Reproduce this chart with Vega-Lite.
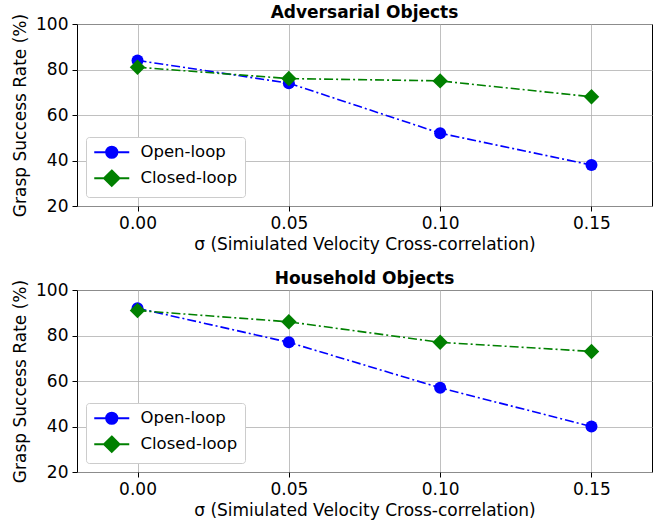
{
  "$schema": "https://vega.github.io/schema/vega-lite/v6.json",
  "padding": {"left": 11, "top": 3, "right": 5, "bottom": 5},
  "background": "white",
  "spacing": 16,
  "config": {
    "font": "DejaVu Sans",
    "view": {"stroke": "black", "strokeWidth": 1},
    "axis": {
      "labelFont": "DejaVu Sans", "titleFont": "DejaVu Sans",
      "labelFontSize": 17, "titleFontSize": 17, "titleFontWeight": "normal",
      "labelColor": "black", "titleColor": "black", "tickColor": "black",
      "domain": false, "gridColor": "#b0b0b0", "gridWidth": 0.8, "gridOpacity": 1,
      "tickSize": 5, "labelPadding": 4
    },
    "axisX": {"titlePadding": 5},
    "axisY": {"titlePadding": 6},
    "title": {"font": "DejaVu Sans", "fontSize": 17, "fontWeight": "bold", "color": "black", "anchor": "middle"}
  },
  "datasets": {
    "adv": [
      {"sigma": 0.00, "rate": 84, "method": "Open-loop"},
      {"sigma": 0.05, "rate": 74, "method": "Open-loop"},
      {"sigma": 0.10, "rate": 52, "method": "Open-loop"},
      {"sigma": 0.15, "rate": 38, "method": "Open-loop"},
      {"sigma": 0.00, "rate": 81, "method": "Closed-loop"},
      {"sigma": 0.05, "rate": 76, "method": "Closed-loop"},
      {"sigma": 0.10, "rate": 75, "method": "Closed-loop"},
      {"sigma": 0.15, "rate": 68, "method": "Closed-loop"}
    ],
    "house": [
      {"sigma": 0.00, "rate": 92, "method": "Open-loop"},
      {"sigma": 0.05, "rate": 77, "method": "Open-loop"},
      {"sigma": 0.10, "rate": 57, "method": "Open-loop"},
      {"sigma": 0.15, "rate": 40, "method": "Open-loop"},
      {"sigma": 0.00, "rate": 91, "method": "Closed-loop"},
      {"sigma": 0.05, "rate": 86, "method": "Closed-loop"},
      {"sigma": 0.10, "rate": 77, "method": "Closed-loop"},
      {"sigma": 0.15, "rate": 73, "method": "Closed-loop"}
    ]
  },
  "vconcat": [
    {
      "title": {"text": "Adversarial Objects", "frame": "group", "offset": -9},
      "width": 575, "height": 182,
      "data": {"name": "adv"},
      "encoding": {
        "x": {"field": "sigma", "type": "quantitative", "scale": {"domain": [-0.02, 0.17], "nice": false, "zero": false},
              "axis": {"values": [0, 0.05, 0.1, 0.15], "format": ".2f", "title": "σ (Simiulated Velocity Cross-correlation)"}},
        "y": {"field": "rate", "type": "quantitative", "scale": {"domain": [20, 100], "nice": false},
              "axis": {"values": [20, 40, 60, 80, 100], "title": "Grasp Success Rate (%)"}},
        "color": {"field": "method", "type": "nominal",
                  "scale": {"domain": ["Open-loop", "Closed-loop"], "range": ["#0000ff", "#008000"]},
                  "legend": {
                    "orient": "bottom-left", "offset": 9, "title": null,
                    "fillColor": "white", "strokeColor": "#cccccc", "cornerRadius": 3, "padding": 7,
                    "labelFont": "DejaVu Sans", "labelFontSize": 16.5, "labelColor": "black",
                    "symbolSize": 196, "labelOffset": 31, "rowPadding": 4,
                    "encode": {"symbols": {"update": {
                      "shape": {"signal": "datum.value === 'Open-loop' ? 'M-1,0L4,0M0.7,0A0.8,0.8 0 1,0 2.3,0A0.8,0.8 0 1,0 0.7,0Z' : 'M-1,0L4,0M1.5,-1.1L2.6,0L1.5,1.1L0.4,0Z'"},
                      "fill": {"signal": "datum.value === 'Open-loop' ? '#0000ff' : '#008000'"},
                      "stroke": {"signal": "datum.value === 'Open-loop' ? '#0000ff' : '#008000'"},
                      "strokeWidth": {"value": 2},
                      "opacity": {"value": 1}, "fillOpacity": {"value": 1}, "strokeOpacity": {"value": 1}
                    }}}
                  }}
      },
      "layer": [
        {"mark": {"type": "line", "strokeDash": [9, 3, 2, 3], "strokeWidth": 1.6}},
        {"transform": [{"filter": "datum.method === 'Open-loop'"}],
         "mark": {"type": "point", "shape": "circle", "filled": true, "opacity": 1, "size": 144}},
        {"transform": [{"filter": "datum.method === 'Closed-loop'"}],
         "mark": {"type": "point", "shape": "diamond", "filled": true, "opacity": 1, "size": 240}}
      ]
    },
    {
      "title": {"text": "Household Objects", "frame": "group", "offset": -9},
      "width": 575, "height": 182,
      "data": {"name": "house"},
      "encoding": {
        "x": {"field": "sigma", "type": "quantitative", "scale": {"domain": [-0.02, 0.17], "nice": false, "zero": false},
              "axis": {"values": [0, 0.05, 0.1, 0.15], "format": ".2f", "title": "σ (Simiulated Velocity Cross-correlation)"}},
        "y": {"field": "rate", "type": "quantitative", "scale": {"domain": [20, 100], "nice": false},
              "axis": {"values": [20, 40, 60, 80, 100], "title": "Grasp Success Rate (%)"}},
        "color": {"field": "method", "type": "nominal",
                  "scale": {"domain": ["Open-loop", "Closed-loop"], "range": ["#0000ff", "#008000"]},
                  "legend": {
                    "orient": "bottom-left", "offset": 9, "title": null,
                    "fillColor": "white", "strokeColor": "#cccccc", "cornerRadius": 3, "padding": 7,
                    "labelFont": "DejaVu Sans", "labelFontSize": 16.5, "labelColor": "black",
                    "symbolSize": 196, "labelOffset": 31, "rowPadding": 4,
                    "encode": {"symbols": {"update": {
                      "shape": {"signal": "datum.value === 'Open-loop' ? 'M-1,0L4,0M0.7,0A0.8,0.8 0 1,0 2.3,0A0.8,0.8 0 1,0 0.7,0Z' : 'M-1,0L4,0M1.5,-1.1L2.6,0L1.5,1.1L0.4,0Z'"},
                      "fill": {"signal": "datum.value === 'Open-loop' ? '#0000ff' : '#008000'"},
                      "stroke": {"signal": "datum.value === 'Open-loop' ? '#0000ff' : '#008000'"},
                      "strokeWidth": {"value": 2},
                      "opacity": {"value": 1}, "fillOpacity": {"value": 1}, "strokeOpacity": {"value": 1}
                    }}}
                  }}
      },
      "layer": [
        {"mark": {"type": "line", "strokeDash": [9, 3, 2, 3], "strokeWidth": 1.6}},
        {"transform": [{"filter": "datum.method === 'Open-loop'"}],
         "mark": {"type": "point", "shape": "circle", "filled": true, "opacity": 1, "size": 144}},
        {"transform": [{"filter": "datum.method === 'Closed-loop'"}],
         "mark": {"type": "point", "shape": "diamond", "filled": true, "opacity": 1, "size": 240}}
      ]
    }
  ],
  "resolve": {"legend": {"color": "independent"}, "scale": {"color": "independent"}}
}
